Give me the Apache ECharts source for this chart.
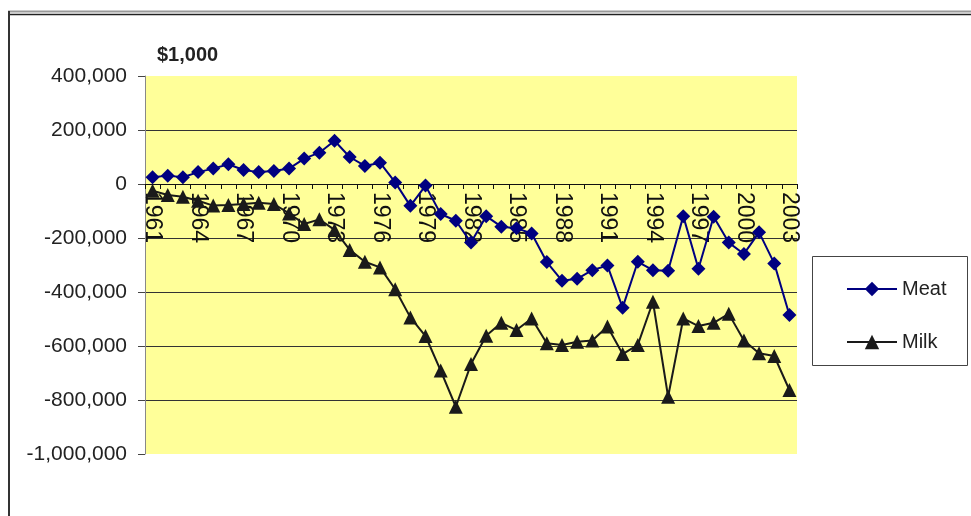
<!DOCTYPE html>
<html>
<head>
<meta charset="utf-8">
<script src="https://cdn.jsdelivr.net/npm/echarts@6/dist/echarts.min.js"></script>
<style>html,body{margin:0;padding:0;background:#fff;}#c{width:971px;height:516px;}</style>
</head>
<body>
<div id="c"></div>
<script>
var years = [];
for (var y = 1961; y <= 2003; y++) years.push(String(y));

var meat = [25000, 31000, 25000, 44000, 57000, 73000, 52000, 44000, 48000, 57000,
  94000, 116000, 160000, 100000, 67000, 79000, 6000, -81000, -6000, -111000,
  -136000, -217000, -119000, -158000, -164000, -183000, -289000, -358000, -351000, -319000,
  -302000, -458000, -288000, -319000, -321000, -119000, -314000, -121000, -217000, -259000,
  -179000, -294000, -485000];

var milk = [-25000, -41000, -47000, -62000, -80000, -78000, -74000, -69000, -74000, -109000,
  -148000, -131000, -170000, -244000, -288000, -309000, -390000, -494000, -563000, -691000,
  -825000, -667000, -562000, -514000, -541000, -498000, -590000, -596000, -584000, -580000,
  -528000, -630000, -596000, -436000, -788000, -498000, -526000, -514000, -481000, -580000,
  -627000, -637000, -763000];

var yMin = -1000000, yMax = 400000, yStep = 200000;
var unitLabel = '$1,000';

var gridTop = 76, gridBottom = 62, chartH = 516;
var plotH = chartH - gridTop - gridBottom;
var zeroOffset = -plotH * (0 - yMin) / (yMax - yMin);

var chart = echarts.init(document.getElementById('c'), null, {renderer: 'canvas'});
chart.setOption({
  animation: false,
  backgroundColor: '#ffffff',
  textStyle: {fontFamily: 'Liberation Sans, Arial, sans-serif'},
  grid: {left: 145, right: 174, top: gridTop, bottom: gridBottom, show: true, backgroundColor: '#FFFF99', borderWidth: 0},
  title: {
    text: unitLabel, left: 152, top: 40,
    textStyle: {fontSize: 20, fontWeight: 'bold', color: '#222', fontFamily: 'Liberation Sans, Arial, sans-serif'}
  },
  legend: {
    orient: 'vertical', left: 841, top: 274, itemWidth: 50, itemHeight: 18, itemGap: 33,
    textStyle: {fontSize: 20, color: '#222'},
    data: ['Meat', 'Milk']
  },
  graphic: [
    {type: 'line', shape: {x1: 8, y1: 11.5, x2: 971, y2: 11.5}, style: {stroke: '#999', lineWidth: 2}},
    {type: 'line', shape: {x1: 8, y1: 14.5, x2: 971, y2: 14.5}, style: {stroke: '#222', lineWidth: 1.5}},
    {type: 'line', shape: {x1: 9, y1: 11, x2: 9, y2: 516}, style: {stroke: '#333', lineWidth: 2}},
    {type: 'rect', shape: {x: 812.5, y: 256.5, width: 155, height: 109}, style: {fill: 'none', stroke: '#444', lineWidth: 1}, z: 0}
  ],
  xAxis: {
    type: 'category', data: years, boundaryGap: true,
    offset: zeroOffset,
    axisLine: {onZero: false, lineStyle: {color: '#111', width: 1}},
    axisTick: {show: true, interval: 0, length: 5, lineStyle: {color: '#111'}},
    axisLabel: {interval: 2, rotate: -90, fontSize: 23, color: '#111', margin: 8},
    splitLine: {show: false}
  },
  yAxis: {
    type: 'value', min: yMin, max: yMax, interval: yStep,
    axisLine: {show: true, lineStyle: {color: '#888', width: 1}},
    axisTick: {show: true, length: 7, lineStyle: {color: '#444'}},
    axisLabel: {fontSize: 21, color: '#222', margin: 18,
      formatter: function (v) { return v === 0 ? '0' : v.toLocaleString('en-US'); }},
    splitLine: {show: true, showMinLine: false, showMaxLine: false, lineStyle: {color: '#333', width: 1}}
  },
  series: [
    {name: 'Meat', type: 'line', data: meat, symbol: 'diamond', symbolSize: 14, showAllSymbol: true,
      itemStyle: {color: '#000080'}, lineStyle: {color: '#000080', width: 2}, z: 3},
    {name: 'Milk', type: 'line', data: milk, symbol: 'triangle', symbolSize: 14, showAllSymbol: true,
      itemStyle: {color: '#1a1a1a'}, lineStyle: {color: '#1a1a1a', width: 2}, z: 2}
  ]
});
</script>
</body>
</html>
